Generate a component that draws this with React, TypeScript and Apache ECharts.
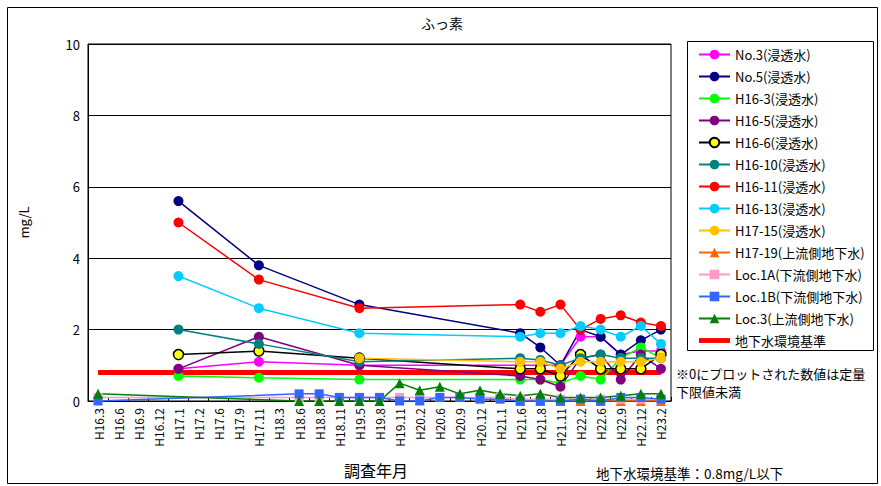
import React, { useEffect, useRef } from "react";
import * as echarts from "echarts";

const _ = null;

const categories = [
  "H16.3", "H16.6", "H16.9", "H16.12", "H17.1", "H17.2", "H17.6", "H17.9", "H17.11",
  "H18.3", "H18.6", "H18.8", "H18.11", "H19.5", "H19.8", "H19.11", "H20.2", "H20.6",
  "H20.9", "H20.12", "H21.1", "H21.6", "H21.8", "H21.11", "H22.2", "H22.6", "H22.9",
  "H22.12", "H23.2",
];

//                 0  1  2  3  4    5  6  7  8    9 10 11 12 13   14 15 16 17 18 19 20 21   22   23   24   25   26   27   28
const no3 =       [_, _, _, _, 0.9, _, _, _, 1.1, _, _, _, _, 1.0, _, _, _, _, _, _, _, 1.0, 1.0, 1.0, 1.8, 1.8, 1.3, 1.4, 1.4];
const no5 =       [_, _, _, _, 5.6, _, _, _, 3.8, _, _, _, _, 2.7, _, _, _, _, _, _, _, 1.9, 1.5, 1.0, 2.0, 1.8, 1.3, 1.7, 2.0];
const h16_3 =     [_, _, _, _, 0.7, _, _, _, 0.65, _, _, _, _, 0.6, _, _, _, _, _, _, _, 0.6, 0.6, 0.5, 0.7, 0.6, 1.2, 1.5, 1.2];
const h16_5 =     [_, _, _, _, 0.9, _, _, _, 1.8, _, _, _, _, 1.0, _, _, _, _, _, _, _, 0.7, 0.6, 0.4, 1.2, 1.3, 0.6, 1.3, 0.9];
const h16_6 =     [_, _, _, _, 1.3, _, _, _, 1.4, _, _, _, _, 1.2, _, _, _, _, _, _, _, 0.9, 0.9, 0.7, 1.3, 0.9, 0.9, 0.9, 1.3];
const h16_10 =    [_, _, _, _, 2.0, _, _, _, 1.6, _, _, _, _, 1.1, _, _, _, _, _, _, _, 1.2, 1.15, 1.0, 1.2, 1.3, 1.2, 1.2, 1.2];
const h16_11 =    [_, _, _, _, 5.0, _, _, _, 3.4, _, _, _, _, 2.6, _, _, _, _, _, _, _, 2.7, 2.5, 2.7, 2.0, 2.3, 2.4, 2.2, 2.1];
const h16_13 =    [_, _, _, _, 3.5, _, _, _, 2.6, _, _, _, _, 1.9, _, _, _, _, _, _, _, 1.8, 1.9, 1.9, 2.1, 2.0, 1.8, 2.1, 1.6];
const h17_15 =    [_, _, _, _, _, _, _, _, _, _, _, _, _, 1.2, _, _, _, _, _, _, _, 1.1, 1.1, 0.9, 1.1, 1.1, 1.1, 1.1, 1.2];
const h17_19 =    [_, _, _, _, _, _, _, _, _, _, _, _, _, _, _, _, _, _, _, _, _, 0, 0, 0, 0, 0, 0, 0, 0];
const loc1A =     [0.1, _, _, _, _, _, _, _, _, _, 0.1, 0.1, 0.1, 0.1, 0.1, 0.1, 0.1, 0.1, 0.1, 0.1, 0.1, 0.05, 0.05, 0.05, 0.05, 0.05, 0.05, 0.05, 0.05];
const loc1B =     [0, _, _, _, _, _, _, _, _, _, 0.2, 0.2, 0.1, 0.1, 0.1, 0, 0, 0.1, 0.1, 0.05, 0.05, 0, 0, 0, 0.05, 0, 0.1, 0.1, 0.05];
const loc3 =      [0.2, _, _, _, _, _, _, _, _, _, 0, 0, 0, 0, 0, 0.5, 0.3, 0.4, 0.2, 0.3, 0.2, 0.15, 0.2, 0.1, 0.1, 0.1, 0.15, 0.2, 0.2];
const standard =  categories.map(() => 0.8);

const yTicks = [0, 2, 4, 6, 8, 10];

const FONT = '"Noto Sans CJK JP", "Noto Sans", sans-serif';

type Spec = {
  name: string;
  data: (number | null)[];
  color: string;
  lineColor?: string;
  border?: string;
  symbol: string;
  size: number;
};

const specs: Spec[] = [
  { name: "No.3(浸透水)", data: no3, color: "#FF00FF", symbol: "circle", size: 10 },
  { name: "No.5(浸透水)", data: no5, color: "#000080", symbol: "circle", size: 10 },
  { name: "H16-3(浸透水)", data: h16_3, color: "#00FF00", symbol: "circle", size: 10 },
  { name: "H16-5(浸透水)", data: h16_5, color: "#800080", symbol: "circle", size: 10 },
  { name: "H16-6(浸透水)", data: h16_6, color: "#FFFF00", lineColor: "#000000", border: "#000000", symbol: "circle", size: 10 },
  { name: "H16-10(浸透水)", data: h16_10, color: "#008080", symbol: "circle", size: 10 },
  { name: "H16-11(浸透水)", data: h16_11, color: "#FF0000", symbol: "circle", size: 10 },
  { name: "H16-13(浸透水)", data: h16_13, color: "#00CCFF", symbol: "circle", size: 10 },
  { name: "H17-15(浸透水)", data: h17_15, color: "#FFC000", symbol: "circle", size: 10 },
  { name: "H17-19(上流側地下水)", data: h17_19, color: "#FF6600", symbol: "triangle", size: 10 },
  { name: "Loc.1A(下流側地下水)", data: loc1A, color: "#FF99CC", symbol: "rect", size: 9 },
  { name: "Loc.1B(下流側地下水)", data: loc1B, color: "#3366FF", symbol: "rect", size: 9 },
  { name: "Loc.3(上流側地下水)", data: loc3, color: "#008000", symbol: "triangle", size: 10 },
];

const STD_NAME = "地下水環境基準";

export default function App() {
  const ref = useRef<HTMLDivElement>(null);

  useEffect(() => {
    if (!ref.current) return;
    const chart = echarts.init(ref.current, undefined, { renderer: "svg" });

    const series: any[] = [
      {
        name: STD_NAME,
        type: "line",
        data: standard,
        symbol: "none",
        lineStyle: { color: "#FF0000", width: 5 },
        itemStyle: { color: "#FF0000" },
        z: 1,
      },
      ...specs.map((s) => ({
        name: s.name,
        type: "line",
        data: s.data,
        connectNulls: true,
        symbol: s.symbol,
        symbolSize: s.size,
        showSymbol: true,
        lineStyle: { color: s.lineColor || s.color, width: 1.5 },
        itemStyle: {
          color: s.color,
          borderColor: s.border || s.color,
          borderWidth: s.border ? 1.5 : 0,
        },
        z: 2,
      })),
    ];

    chart.setOption({
      animation: false,
      textStyle: { fontFamily: FONT },
      title: {
        text: "ふっ素",
        left: 437,
        top: 11,
        textAlign: "center",
        textStyle: { fontSize: 14, fontWeight: "normal", color: "#000", fontFamily: FONT },
      },
      grid: {
        left: 88,
        top: 44,
        right: 210,
        bottom: 85,
        show: true,
        borderColor: "#000",
        borderWidth: 1,
        backgroundColor: "#fff",
      },
      legend: {
        orient: "vertical",
        left: 693,
        top: 43,
        itemWidth: 31,
        itemHeight: 12,
        itemGap: 9,
        data: [
          ...specs.map((s) => s.name),
          { name: STD_NAME, icon: "path://M0,0 L32,0 L32,5 L0,5 Z", itemStyle: { color: "#FF0000" } },
        ],
        textStyle: { fontSize: 13, color: "#000", fontFamily: FONT, lineHeight: 12 },
        selectedMode: false,
      },
      xAxis: {
        type: "category",
        data: categories,
        boundaryGap: true,
        axisLine: { lineStyle: { color: "#000", width: 1 } },
        axisTick: { show: true, inside: true, length: 4, lineStyle: { color: "#000" } },
        axisLabel: {
          rotate: 90,
          interval: 0,
          fontSize: 12,
          color: "#000",
          margin: 7,
          fontFamily: FONT,
        },
      },
      yAxis: {
        type: "value",
        min: yTicks[0],
        max: yTicks[yTicks.length - 1],
        interval: 2,
        name: "mg/L",
        nameLocation: "middle",
        nameGap: 58,
        nameRotate: 90,
        nameTextStyle: { fontSize: 13, color: "#000", fontFamily: FONT },
        axisLine: { show: true, lineStyle: { color: "#000", width: 1 } },
        axisTick: { show: false },
        axisLabel: { fontSize: 13, color: "#000", margin: 8, fontFamily: FONT },
        splitLine: { show: true, lineStyle: { color: "#000", width: 1 } },
      },
      graphic: [
        {
          type: "rect",
          shape: { x: 7.5, y: 7.5, width: 870, height: 476 },
          style: { fill: "none", stroke: "#000", lineWidth: 1 },
          silent: true,
          z: -1,
        },
        {
          type: "rect",
          shape: { x: 687.5, y: 41.5, width: 186, height: 309 },
          style: { fill: "none", stroke: "#000", lineWidth: 1 },
          silent: true,
        },
        {
          type: "text",
          x: 676,
          y: 373,
          style: {
            text: "※0にプロットされた数値は定量",
            fontSize: 13,
            fill: "#000",
            fontFamily: FONT,
            verticalAlign: "middle",
          },
        },
        {
          type: "text",
          x: 676,
          y: 391,
          style: {
            text: "下限値未満",
            fontSize: 13,
            fill: "#000",
            fontFamily: FONT,
            verticalAlign: "middle",
          },
        },
        {
          type: "text",
          x: 344,
          y: 470,
          style: { text: "調査年月", fontSize: 16, fill: "#000", fontFamily: FONT, verticalAlign: "middle" },
        },
        {
          type: "text",
          x: 596,
          y: 473,
          style: {
            text: "地下水環境基準：0.8mg/L以下",
            fontSize: 13.5,
            fill: "#000",
            fontFamily: FONT,
            verticalAlign: "middle",
          },
        },
      ],
      series,
    });

    return () => chart.dispose();
  }, []);

  return (
    <div
      ref={ref}
      style={{ position: "fixed", left: 0, top: 0, width: 881, height: 486, background: "#fff" }}
    />
  );
}
